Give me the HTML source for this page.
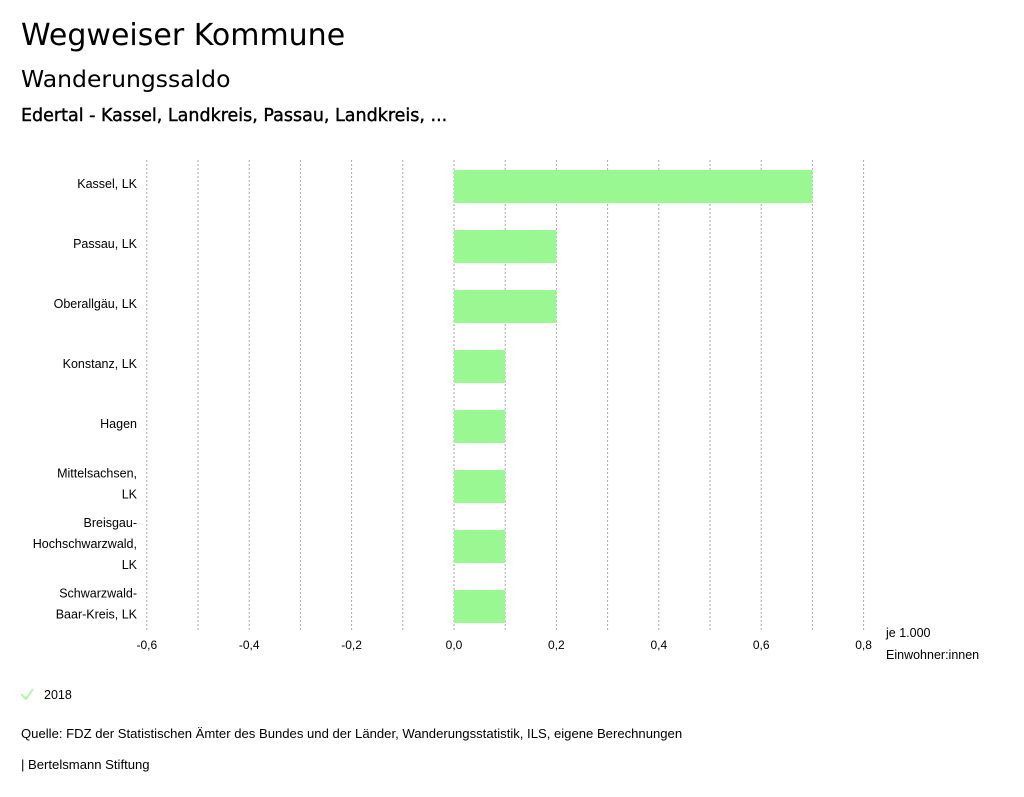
<!DOCTYPE html>
<html><head><meta charset="utf-8">
<style>
body{margin:0;background:#fff;width:1024px;height:797px;overflow:hidden;font-family:"Liberation Sans",sans-serif;}
.t{position:absolute;left:21px;font-family:"DejaVu Sans",sans-serif;color:#000;white-space:nowrap}
</style></head><body>
<div class="t" style="top:18px;font-size:30px">Wegweiser Kommune</div>
<div class="t" style="top:65px;font-size:23.5px">Wanderungssaldo</div>
<div class="t" style="top:106px;font-size:17.5px;-webkit-text-stroke:0.4px #000">Edertal - Kassel, Landkreis, Passau, Landkreis, ...</div>
<svg id="chart" width="1024" height="797" style="position:absolute;left:0;top:0" font-family="Liberation Sans, sans-serif"></svg>
<script>
const categories=[["Kassel, LK"],["Passau, LK"],["Oberallgäu, LK"],["Konstanz, LK"],["Hagen"],["Mittelsachsen,","LK"],["Breisgau-","Hochschwarzwald,","LK"],["Schwarzwald-","Baar-Kreis, LK"]];
const values2018=[0.7,0.2,0.2,0.1,0.1,0.1,0.1,0.1];
const ticks=[-0.6,-0.4,-0.2,0,0.2,0.4,0.6,0.8];
const tickLabels=["-0,6","-0,4","-0,2","0,0","0,2","0,4","0,6","0,8"];
const gridVals=[-0.6,-0.5,-0.4,-0.3,-0.2,-0.1,0,0.1,0.2,0.3,0.4,0.5,0.6,0.7,0.8];
const svg=document.getElementById('chart');const NS='http://www.w3.org/2000/svg';
const x=v=>454+v*512;
const yC=i=>186+i*60;
function mk(t,a){const e=document.createElementNS(NS,t);for(const k in a)e.setAttribute(k,a[k]);svg.appendChild(e);return e;}
gridVals.forEach(g=>{const l=mk('line',{x1:x(g),x2:x(g),y1:160,y2:632,stroke:'#aaa','stroke-dasharray':'2,2','stroke-width':1});

});
ticks.forEach((t,i)=>{const e=mk('text',{x:x(t),y:649,'text-anchor':'middle','font-size':12,fill:'#000'});e.textContent=tickLabels[i];

});
categories.forEach((c,i)=>{
const r=mk('rect',{x:x(Math.min(0,values2018[i])),y:yC(i)-16,width:Math.abs(x(values2018[i])-x(0)),height:33,fill:'#9af893'});


const n=c.length;c.forEach((s,j)=>{const e=mk('text',{x:137,y:yC(i)+2+(j-(n-1)/2)*21,'text-anchor':'end','font-size':12.5,fill:'#000'});e.textContent=s;

});
});
[["je 1.000",637],["Einwohner:innen",659]].forEach(a=>{const e=mk('text',{x:886,y:a[1],'font-size':12.5,fill:'#000'});e.textContent=a[0];

});
const ck=mk('path',{d:'M21 694 L26 699 L33 689',stroke:'#9af893',fill:'none','stroke-width':1.5});


const lg=mk('text',{x:44,y:699,'font-size':12.5,fill:'#000'});lg.textContent='2018';


const q=mk('text',{x:21,y:738,'font-size':13.1,fill:'#000'});q.textContent='Quelle: FDZ der Statistischen Ämter des Bundes und der Länder, Wanderungsstatistik, ILS, eigene Berechnungen';


const b=mk('text',{x:21,y:769,'font-size':13.1,fill:'#000'});b.textContent='| Bertelsmann Stiftung';


</script>
</body></html>
